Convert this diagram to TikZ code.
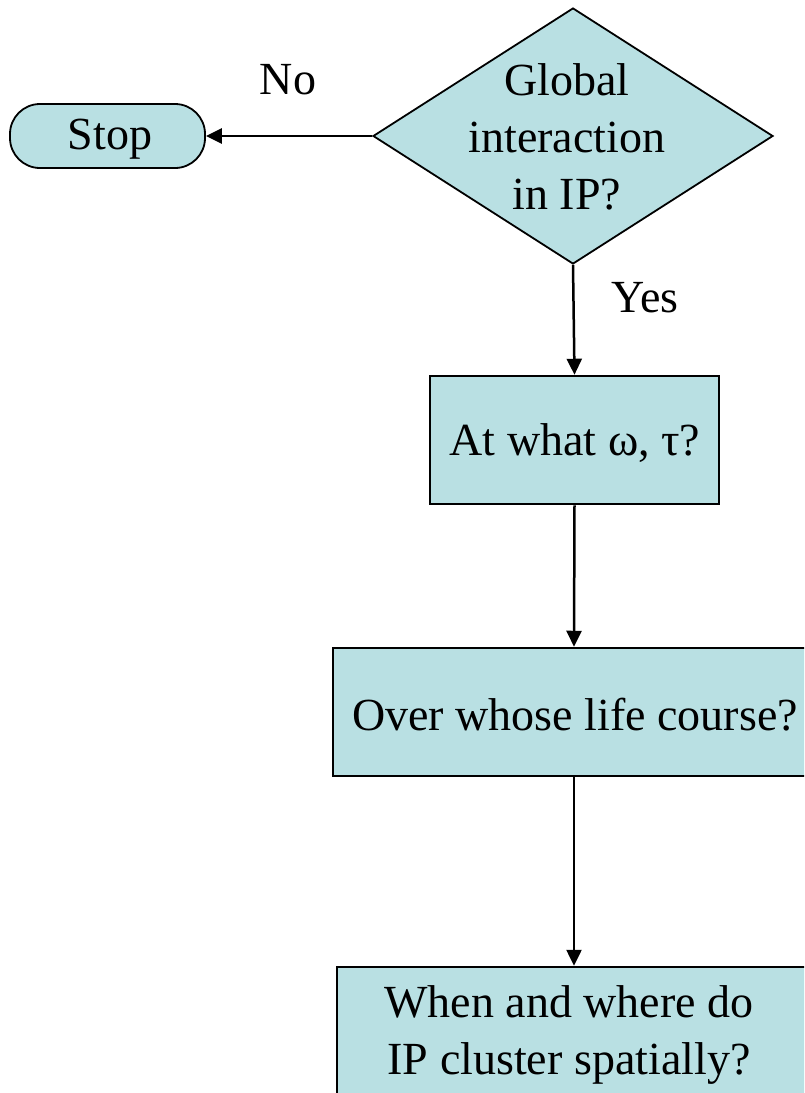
\documentclass[tikz,border=0pt]{standalone}
\usepackage{fontspec}
\setmainfont{LiberationSerif}[Extension=.ttf,UprightFont=*-Regular,BoldFont=*-Bold]
\usetikzlibrary{shapes.geometric,arrows.meta}
\definecolor{boxfill}{RGB}{185,224,227}
\begin{document}
\begin{tikzpicture}[x=1pt,y=-1pt,
  every node/.style={font=\rmfamily\fontsize{46}{57}\selectfont},
  boxnode/.style={draw=black,line width=2.5pt,fill=boxfill,rectangle,inner sep=0pt,align=center},
  decision/.style={draw=black,line width=1.8pt,fill=boxfill,diamond,inner sep=0pt,minimum width=400pt,minimum height=256pt},
  flow/.style={line width=2.5pt,-{Triangle[length=16pt,width=15pt]}},
  lab/.style={inner sep=0pt}]
\useasboundingbox (0,0) rectangle (804,1093);
\clip (0,0) rectangle (804,1093);
\node[decision] (dec) at (573,136) {};
\node[lab,align=center] (dectext) at (567,137) {Global\\interaction\\in IP?};
\node[draw=black,line width=1.8pt,fill=boxfill,rounded corners=30pt,minimum width=195pt,minimum height=64pt,inner sep=0pt] (stop) at (107.5,136) {};
\node[lab] (stoptext) at (110,139) {Stop};
\node[boxnode,minimum width=289pt,minimum height=128pt] (b1) at (574.5,440) {};
\node[lab] (b1text) at (575,443) {At what ω, τ?};
\node[boxnode,minimum width=482pt,minimum height=128pt] (b2) at (574,712) {};
\node[lab] (b2text) at (575,715) {Over whose life course?};
\node[boxnode,minimum width=474pt,minimum height=134pt] (b3) at (574,1034) {};
\node[lab,align=center] (b3text) at (569,1035) {When and where do\\IP cluster spatially?};
\node[lab] (no) at (288,80) {No};
\node[lab] (yes) at (645,298) {Yes};
\draw[flow] (dec.west) -- (stop.east);
\draw[flow] (dec.south) -- (b1.north);
\draw[flow] (b1.south) -- (b2.north);
\draw[flow] (b2.south) -- (b3.north);
\end{tikzpicture}
\end{document}
